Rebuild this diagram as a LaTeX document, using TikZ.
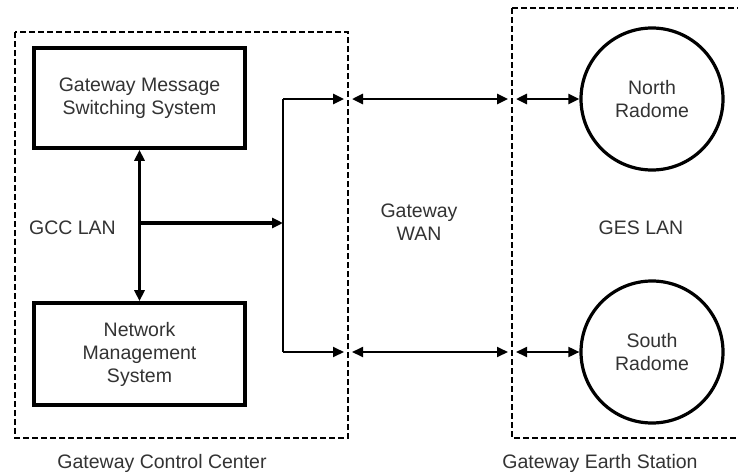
\documentclass[tikz,border=0pt]{standalone}
\usepackage{fontspec}
\setmainfont{Liberation Sans}
\usetikzlibrary{arrows.meta}
\begin{document}
\begin{tikzpicture}[x=1pt,y=-1pt,
  >={Triangle[length=11pt,width=10pt]},
  txt/.style={font=\fontsize{19.5}{23}\selectfont, text=black!80, align=center, inner sep=0pt},
  sysbox/.style={draw, line width=3.6pt, minimum width=211pt, inner sep=0pt, txt},
  radome/.style={draw, circle, line width=3.2pt, minimum size=142pt, inner sep=0pt, txt},
  zone/.style={draw, line width=2.8pt, dash pattern=on 6pt off 3pt},
  zonethin/.style={draw, line width=1.8pt, dash pattern=on 6pt off 3pt},
  lan/.style={line width=3.6pt},
  wantop/.style={line width=2.6pt},
  wanbot/.style={line width=1.8pt}
]
\clip (0,0) rectangle (738,474);
\useasboundingbox (0,0) rectangle (738,474);
\fill[white] (0,0) rectangle (738,474);

% zones
\draw[zone] (15,32) rectangle (348,438);
\draw[zonethin] (512,8) rectangle (760,438);

% nodes
\node[sysbox, minimum height=100pt] (gms) at (139.5,98) {Gateway Message\\Switching System};
\node[sysbox, minimum height=102pt] (nms) at (139.5,354) {Network\\Management\\System};
\node[radome] (north) at (652,99) {North\\Radome};
\node[radome] (south) at (652,352) {South\\Radome};

% labels
\node[txt] (gcclan) at (72.5,228) {GCC LAN};
\node[txt] (wan) at (419,222) {Gateway\\WAN};
\node[txt] (geslan) at (641,228) {GES LAN};
\node[txt] (gcc) at (162,463) {Gateway Control Center};
\node[txt] (ges) at (600,463) {Gateway Earth Station};

% coordinates
\coordinate (j) at (140,223);
\coordinate (k) at (283,223);
\coordinate (tl) at (283,99);
\coordinate (bl) at (283,352);
\coordinate (t1) at (344,99);
\coordinate (t2) at (352,99);
\coordinate (t3) at (508,99);
\coordinate (t4) at (516,99);
\coordinate (b1) at (344,352);
\coordinate (b2) at (352,352);
\coordinate (b3) at (508,352);
\coordinate (b4) at (516,352);

% GCC LAN
\draw[lan, <->] (gms.south) -- (nms.north);
\draw[lan, ->] (j) -- (k);
\draw[wanbot] (tl) -- (bl);

% top WAN link
\draw[wantop, ->] (tl) -- (t1);
\draw[wantop, <->] (t2) -- (t3);
\draw[wantop, <->] (t4) -- (north);

% bottom WAN link
\draw[wanbot, ->] (bl) -- (b1);
\draw[wanbot, <->] (b2) -- (b3);
\draw[wanbot, <->] (b4) -- (south);
\end{tikzpicture}
\end{document}
